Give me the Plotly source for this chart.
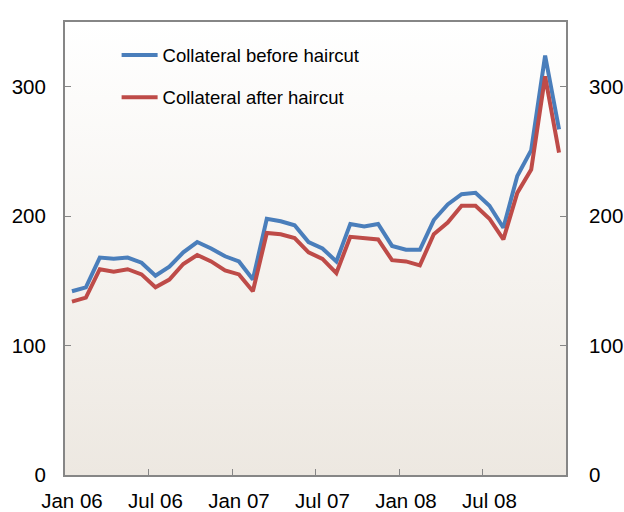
import base64
import plotly.graph_objects as go

# ---- data ----
months = ["Jan 06","Feb 06","Mar 06","Apr 06","May 06","Jun 06","Jul 06","Aug 06","Sep 06","Oct 06","Nov 06","Dec 06",
          "Jan 07","Feb 07","Mar 07","Apr 07","May 07","Jun 07","Jul 07","Aug 07","Sep 07","Oct 07","Nov 07","Dec 07",
          "Jan 08","Feb 08","Mar 08","Apr 08","May 08","Jun 08","Jul 08","Aug 08","Sep 08","Oct 08","Nov 08","Dec 08"]
before_haircut = [142, 145, 168, 167, 168, 164, 154, 161, 172, 180, 175, 169,
                  165, 151, 198, 196, 193, 180, 175, 165, 194, 192, 194, 177,
                  174, 174, 197, 209, 217, 218, 208, 191, 231, 251, 324, 267]
after_haircut = [134, 137, 159, 157, 159, 155, 145, 151, 163, 170, 165, 158,
                 155, 142, 187, 186, 183, 172, 167, 156, 184, 183, 182, 166,
                 165, 162, 186, 195, 208, 208, 198, 182, 218, 236, 308, 249]
tick_labels = ["Jan 06", "Jul 06", "Jan 07", "Jul 07", "Jan 08", "Jul 08"]
y_ticks = [0, 100, 200, 300]

x_idx = list(range(len(months)))
label_pos = [months.index(t) for t in tick_labels]
boundary_pos = [p - 0.5 for p in label_pos[1:]]

BLUE = "#4A7EBB"
RED = "#BE4B48"
GREY = "#868686"
FONT = "Liberation Sans, Arial, sans-serif"

svg = ('<svg xmlns="http://www.w3.org/2000/svg" width="100" height="100" preserveAspectRatio="none">'
       '<defs><linearGradient id="g" x1="0" y1="0" x2="0" y2="1">'
       '<stop offset="0" stop-color="#FFFFFF"/><stop offset="1" stop-color="#EDE8E1"/>'
       '</linearGradient></defs><rect width="100" height="100" fill="url(#g)"/></svg>')
bg_uri = "data:image/svg+xml;base64," + base64.b64encode(svg.encode()).decode()

fig = go.Figure()
fig.add_trace(go.Scatter(x=x_idx, y=before_haircut, mode="lines", name="Collateral before haircut",
                         line=dict(color=BLUE, width=4), legend="legend", hoverinfo="skip"))
fig.add_trace(go.Scatter(x=x_idx, y=after_haircut, mode="lines", name="Collateral after haircut",
                         line=dict(color=RED, width=4), legend="legend2", yaxis="y2", hoverinfo="skip"))

legend_common = dict(font=dict(family=FONT, size=18.5, color="#000000"), bgcolor="rgba(0,0,0,0)",
                     borderwidth=0, xanchor="left", yanchor="middle", itemwidth=36)

fig.update_layout(
    width=624, height=512,
    showlegend=True,
    margin=dict(l=65, r=58, t=22, b=37),
    paper_bgcolor="white",
    plot_bgcolor="rgba(0,0,0,0)",
    font=dict(family=FONT, size=20.5, color="#000000"),
    images=[dict(source=bg_uri, xref="paper", yref="paper", x=0, y=1, sizex=1, sizey=1,
                 xanchor="left", yanchor="top", sizing="stretch", layer="below")],
    xaxis=dict(range=[-0.5, len(months) - 0.5], tickmode="array", tickvals=label_pos, ticktext=tick_labels,
               ticks="", showgrid=False, zeroline=False, showline=True, linecolor=GREY, linewidth=2,
               mirror=True, ticklabelstandoff=6, automargin=False,
               minor=dict(tickmode="array", tickvals=boundary_pos, ticks="inside", ticklen=6,
                          tickcolor=GREY, tickwidth=1, showgrid=False)),
    yaxis=dict(range=[0, 350], tickmode="array", tickvals=y_ticks, ticks="inside", ticklen=6,
               tickcolor=GREY, tickwidth=1, showgrid=False, zeroline=False, showline=True,
               linecolor=GREY, linewidth=2, ticklabelstandoff=13, automargin=False),
    yaxis2=dict(range=[0, 350], overlaying="y", side="right", tickmode="array", tickvals=y_ticks,
                ticks="inside", ticklen=6, tickcolor=GREY, tickwidth=1, showgrid=False, zeroline=False,
                showline=True, linecolor=GREY, linewidth=2, ticklabelstandoff=17, automargin=False),
    legend=dict(x=0.103, y=0.926, **legend_common),
    legend2=dict(x=0.103, y=0.833, **legend_common),
)

fig.write_html("out.html", config={"displayModeBar": False},
               post_script="document.body.style.margin='0';document.body.style.overflow='hidden';")
